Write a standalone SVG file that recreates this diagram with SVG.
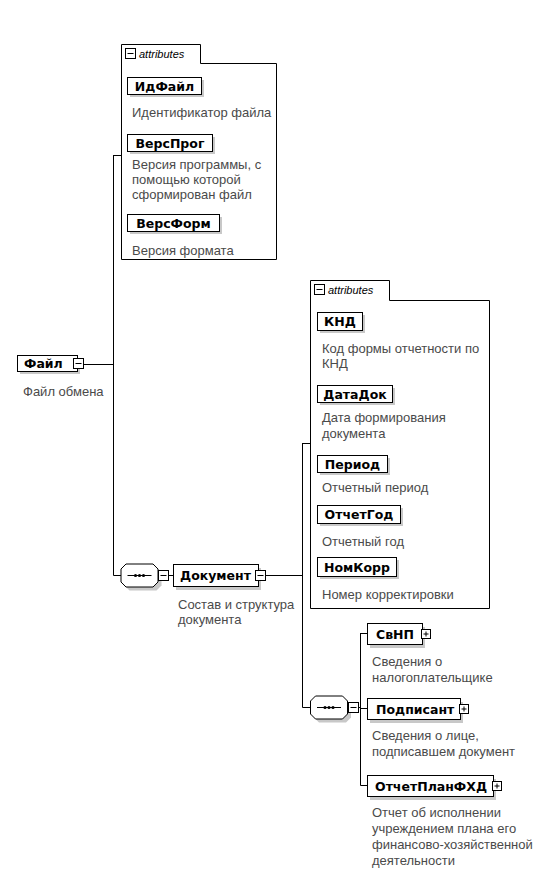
<svg xmlns="http://www.w3.org/2000/svg" width="545" height="873" viewBox="0 0 545 873">
<style>
.bg{fill:#fff}
.box{fill:#fff;stroke:#000;stroke-width:1}
.sh{fill:#c8c8c8}
.ln{fill:none;stroke:#000;stroke-width:1}
.nm{font-family:"DejaVu Sans",sans-serif;font-weight:bold;font-size:12.5px;fill:#000}
.ds{font-family:"Liberation Sans",Arial,sans-serif;font-size:13px;fill:#4a4a4a}
.at{font-family:"Liberation Sans",Arial,sans-serif;font-style:italic;font-size:11px;fill:#000}
.ic{fill:#fff;stroke:#000;stroke-width:1}
</style>
<defs>
<g id="minus"><rect class="ic" x="0.5" y="0.5" width="10" height="10"/><path class="ln" d="M2.5,5.5H8.5"/></g>
<g id="plus"><rect class="ic" x="0.5" y="0.5" width="9" height="9"/><path class="ln" d="M2.5,5H7.5M5,2.5V7.5"/></g>
<g id="seq">
<path class="sh" d="M9,4H36L41,9V22L36,27H9L4,22V9Z"/>
<path class="box" d="M5.5,0.5H32.5L37.5,5.5V18.5L32.5,23.5H5.5L0.5,18.5V5.5Z"/>
<path class="ln" d="M7,12H31"/>
<circle cx="15" cy="12" r="1.6"/><circle cx="19" cy="12" r="1.6"/><circle cx="23" cy="12" r="1.6"/>
</g>
</defs>
<rect class="bg" x="0" y="0" width="545" height="873"/>

<g id="connectors">
<path class="ln" d="M83,364.5H113.5M113.5,155V575.5M113.5,155.5H121M113.5,575.5H121"/>
<path class="ln" d="M168,575.5H173"/>
<path class="ln" d="M265,575.5H302.5M302.5,443V707.5M302.5,443.5H310M302.5,707.5H310"/>
<path class="ln" d="M358,707.5H360.5M360.5,633V785.5M360.5,633.5H367M360.5,708.5H367M360.5,785.5H367"/>
</g>

<g id="attrs1">
<path class="box" d="M121.5,259.5V44.5H200.5V63.5H276.5V259.5Z"/>
<use href="#minus" x="125" y="48"/>
<text class="at" x="139" y="58">attributes</text>
</g>
<g id="IdFile">
<rect class="sh" x="130" y="80" width="74" height="17"/>
<rect class="box" x="127.5" y="77.5" width="74" height="17"/>
<text class="nm" x="164.5" y="90.5" text-anchor="middle">ИдФайл</text>
<text class="ds" x="132" y="117">Идентификатор файла</text>
</g>
<g id="VersProg">
<rect class="sh" x="130" y="137" width="85" height="17"/>
<rect class="box" x="127.5" y="134.5" width="85" height="17"/>
<text class="nm" x="170" y="147.5" text-anchor="middle">ВерсПрог</text>
<text class="ds" x="132" y="169">Версия программы, с</text>
<text class="ds" x="132" y="184">помощью которой</text>
<text class="ds" x="132" y="199">сформирован файл</text>
</g>
<g id="VersForm">
<rect class="sh" x="130" y="217" width="92" height="17"/>
<rect class="box" x="127.5" y="214.5" width="92" height="17"/>
<text class="nm" x="173.5" y="227.5" text-anchor="middle">ВерсФорм</text>
<text class="ds" x="132" y="255">Версия формата</text>
</g>

<g id="File">
<rect class="sh" x="20" y="358" width="60" height="16"/>
<rect class="box" x="17.5" y="355.5" width="60" height="16"/>
<text class="nm" x="24" y="368">Файл</text>
<use href="#minus" x="73" y="358"/>
<text class="ds" x="23" y="396">Файл обмена</text>
</g>

<g id="seq1"><use href="#seq" x="120.5" y="563.5"/><use href="#minus" x="158" y="570"/></g>

<g id="Document">
<rect class="sh" x="176" y="568" width="85" height="22"/>
<rect class="box" x="173.5" y="564.5" width="85" height="22"/>
<text class="nm" x="180" y="580">Документ</text>
<use href="#minus" x="255" y="570"/>
<text class="ds" x="178" y="609">Состав и структура</text>
<text class="ds" x="178" y="624">документа</text>
</g>

<g id="attrs2">
<path class="box" d="M310.5,608.5V280.5H389.5V300.5H489.5V608.5Z"/>
<use href="#minus" x="314" y="284"/>
<text class="at" x="328" y="294">attributes</text>
</g>
<g id="KND">
<rect class="sh" x="320" y="315" width="45" height="18"/>
<rect class="box" x="317.5" y="312.5" width="45" height="18"/>
<text class="nm" x="340" y="326" text-anchor="middle">КНД</text>
<text class="ds" x="322" y="353">Код формы отчетности по</text>
<text class="ds" x="322" y="368">КНД</text>
</g>
<g id="DataDok">
<rect class="sh" x="320" y="388" width="75" height="17"/>
<rect class="box" x="317.5" y="385.5" width="75" height="17"/>
<text class="nm" x="355" y="398.5" text-anchor="middle">ДатаДок</text>
<text class="ds" x="322" y="422">Дата формирования</text>
<text class="ds" x="322" y="438">документа</text>
</g>
<g id="Period">
<rect class="sh" x="320" y="458" width="70" height="17"/>
<rect class="box" x="317.5" y="455.5" width="70" height="17"/>
<text class="nm" x="352.5" y="468.5" text-anchor="middle">Период</text>
<text class="ds" x="322" y="492">Отчетный период</text>
</g>
<g id="OtchetGod">
<rect class="sh" x="320" y="508" width="83" height="18"/>
<rect class="box" x="317.5" y="505.5" width="83" height="18"/>
<text class="nm" x="359" y="519" text-anchor="middle">ОтчетГод</text>
<text class="ds" x="322" y="546">Отчетный год</text>
</g>
<g id="NomKorr">
<rect class="sh" x="320" y="560" width="79" height="19"/>
<rect class="box" x="317.5" y="557.5" width="79" height="19"/>
<text class="nm" x="357" y="571.5" text-anchor="middle">НомКорр</text>
<text class="ds" x="322" y="599">Номер корректировки</text>
</g>

<g id="seq2"><use href="#seq" x="310" y="695.5"/><use href="#minus" x="348" y="702"/></g>

<g id="SvNP">
<rect class="sh" x="370" y="627" width="55" height="21"/>
<rect class="box" x="367.5" y="623.5" width="55" height="21"/>
<text class="nm" x="376" y="639">СвНП</text>
<use href="#plus" x="421" y="629"/>
<text class="ds" x="372" y="666">Сведения о</text>
<text class="ds" x="372" y="682">налогоплательщике</text>
</g>
<g id="Podpisant">
<rect class="sh" x="370" y="702" width="93" height="21"/>
<rect class="box" x="367.5" y="698.5" width="93" height="21"/>
<text class="nm" x="376" y="714">Подписант</text>
<use href="#plus" x="459" y="704"/>
<text class="ds" x="372" y="740">Сведения о лице,</text>
<text class="ds" x="372" y="756">подписавшем документ</text>
</g>
<g id="OtchetPlanFHD">
<rect class="sh" x="370" y="779" width="126" height="21"/>
<rect class="box" x="367.5" y="775.5" width="126" height="21"/>
<text class="nm" x="375" y="791">ОтчетПланФХД</text>
<use href="#plus" x="492" y="781"/>
<text class="ds" x="372" y="817">Отчет об исполнении</text>
<text class="ds" x="372" y="833">учреждением плана его</text>
<text class="ds" x="372" y="849">финансово-хозяйственной</text>
<text class="ds" x="372" y="865">деятельности</text>
</g>
</svg>
